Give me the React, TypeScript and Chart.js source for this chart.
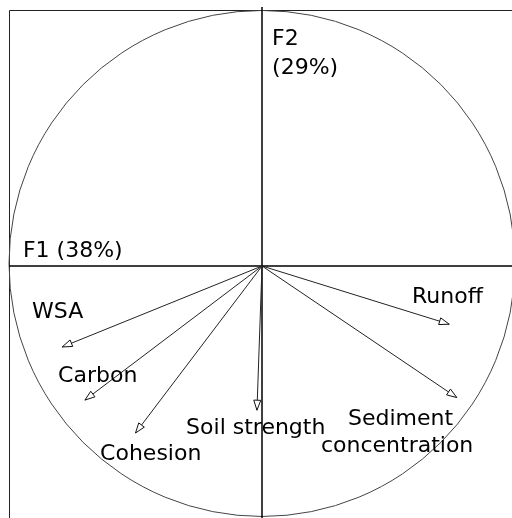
import React, { useEffect, useRef } from "react";
import { Chart, registerables } from "chart.js";

Chart.register(...registerables);

// Variables (loadings on F1, F2)
const variables = ["WSA", "Carbon", "Cohesion", "Soil strength", "Runoff", "Sediment concentration"];
const f1Loadings = [-0.79, -0.70, -0.50, -0.02, 0.74, 0.77];
const f2Loadings = [-0.32, -0.53, -0.66, -0.57, -0.23, -0.52];

// Axis labels
const axisF1Label = "F1 (38%)";
const axisF2Lines = ["F2", "(29%)"];

// Label text lines per variable; anchors (left, baseline) in data coordinates
const labelLines: string[][] = [["WSA"], ["Carbon"], ["Cohesion"], ["Soil strength"], ["Runoff"], ["Sediment", "concentration"]];
const labelX = [[-0.909], [-0.806], [-0.64], [-0.3], [0.593], [0.34, 0.233]];
const labelY = [[-0.206], [-0.458], [-0.767], [-0.664], [-0.146], [-0.628, -0.735]];

const FONT = '22px "DejaVu Sans", sans-serif';

const biplotPlugin = {
  id: "biplot",
  beforeDatasetsDraw(chart: any) {
    const { ctx, chartArea, scales } = chart;
    const x = scales.x, y = scales.y;
    const ox = x.getPixelForValue(0);
    const oy = y.getPixelForValue(0);
    const r = x.getPixelForValue(1) - ox;
    ctx.save();
    // frame (left & top)
    ctx.strokeStyle = "#222";
    ctx.lineWidth = 1;
    ctx.beginPath();
    ctx.moveTo(chartArea.left + 0.5, chart.height);
    ctx.lineTo(chartArea.left + 0.5, chartArea.top + 0.5);
    ctx.lineTo(chart.width, chartArea.top + 0.5);
    ctx.stroke();
    // circle
    ctx.strokeStyle = "#444";
    ctx.beginPath();
    ctx.arc(ox, y.getPixelForValue(0.01), r, 0, Math.PI * 2);
    ctx.stroke();
    // axes
    ctx.strokeStyle = "#000";
    ctx.lineWidth = 1.5;
    ctx.beginPath();
    ctx.moveTo(chartArea.left, oy);
    ctx.lineTo(chart.width, oy);
    ctx.moveTo(ox, chartArea.top - 3);
    ctx.lineTo(ox, chart.height);
    ctx.stroke();
    ctx.restore();
  },
  afterDatasetsDraw(chart: any) {
    const { ctx, scales } = chart;
    const x = scales.x, y = scales.y;
    const ox = x.getPixelForValue(0);
    const oy = y.getPixelForValue(0);
    ctx.save();
    // arrowheads
    ctx.strokeStyle = "#111";
    ctx.fillStyle = "#fff";
    ctx.lineWidth = 1;
    for (let i = 0; i < variables.length; i++) {
      const tx = x.getPixelForValue(f1Loadings[i]);
      const ty = y.getPixelForValue(f2Loadings[i]);
      const ang = Math.atan2(ty - oy, tx - ox);
      const L = 10, W = 3.5;
      const bx = tx - L * Math.cos(ang), by = ty - L * Math.sin(ang);
      const px = -Math.sin(ang) * W, py = Math.cos(ang) * W;
      ctx.beginPath();
      ctx.moveTo(tx, ty);
      ctx.lineTo(bx + px, by + py);
      ctx.lineTo(bx - px, by - py);
      ctx.closePath();
      ctx.fill();
      ctx.stroke();
    }
    // labels
    ctx.fillStyle = "#000";
    ctx.font = FONT;
    ctx.textAlign = "left";
    ctx.textBaseline = "alphabetic";
    for (let i = 0; i < labelLines.length; i++) {
      for (let j = 0; j < labelLines[i].length; j++) {
        ctx.fillText(labelLines[i][j], x.getPixelForValue(labelX[i][j]), y.getPixelForValue(labelY[i][j]));
      }
    }
    ctx.fillText(axisF1Label, x.getPixelForValue(-0.945), y.getPixelForValue(0.036));
    ctx.fillText(axisF2Lines[0], x.getPixelForValue(0.04), y.getPixelForValue(0.874));
    ctx.fillText(axisF2Lines[1], x.getPixelForValue(0.04), y.getPixelForValue(0.759));
    ctx.restore();
  },
};

export default function App() {
  const ref = useRef<HTMLCanvasElement>(null);
  useEffect(() => {
    if (!ref.current) return;
    const datasets = variables.map((name, i) => ({
      label: name,
      data: [
        { x: 0, y: 0 },
        { x: f1Loadings[i], y: f2Loadings[i] },
      ],
      showLine: true,
      borderColor: "#222",
      borderWidth: 1,
      pointRadius: 0,
      fill: false,
    }));
    const chart = new Chart(ref.current, {
      type: "scatter",
      data: { datasets },
      options: {
        animation: false,
        responsive: false,
        layout: { padding: { left: 9, top: 10, right: 0, bottom: 0 } },
        plugins: { legend: { display: false }, tooltip: { enabled: false } },
        scales: {
          x: { type: "linear", display: false, min: -1, max: 250 / 253 },
          y: { type: "linear", display: false, min: -252 / 253, max: 256 / 253 },
        },
      },
      plugins: [biplotPlugin],
    });
    return () => chart.destroy();
  }, []);
  return (
    <div style={{ position: "fixed", left: 0, top: 0, width: 512, height: 518, background: "#fff" }}>
      <canvas ref={ref} width={512} height={518} style={{ display: "block" }} />
    </div>
  );
}
